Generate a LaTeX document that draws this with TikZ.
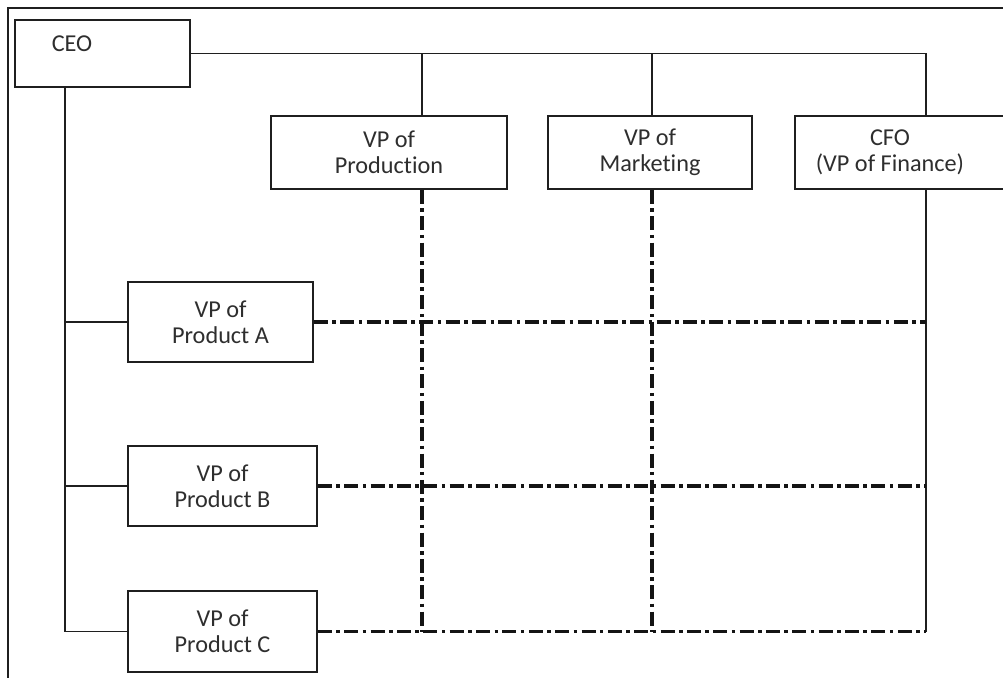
\documentclass[tikz,border=0pt]{standalone}
\usepackage{fontspec}
\setmainfont{Carlito}[Ligatures=NoCommon]
\begin{document}
\begin{tikzpicture}[
        x=0.02cm, y=-0.02cm,
        every node/.style={font=\fontsize{13.8}{14.8}\selectfont, text=black!82, align=center},
        box/.style={rectangle, draw=black!88, line width=1.1pt, inner sep=0pt},
        link/.style={draw=black!88, line width=1.1pt},
        matrixlink/.style={draw=black!92, line width=2.1pt,
                           dash pattern=on 8pt off 2.5pt on 2pt off 2.5pt},
    ]
        \useasboundingbox (0,0) rectangle (1003,678);
        \clip (0,0) rectangle (1003,678);

        \node[box, minimum width=3.5cm, minimum height=1.34cm] (ceo) at (102.5,53.5) {};
        \node (ceolbl) at (72,44) {CEO};
        \node[box, minimum width=4.72cm, minimum height=1.46cm] (prod) at (389,152.5) {VP of\\Production};
        \node[box, minimum width=4.08cm, minimum height=1.46cm] (mkt) at (650,152.5) {VP of\\Marketing};
        \node[box, minimum width=4.4cm, minimum height=1.46cm] (cfo) at (905,152.5) {};
        \node (cfolbl) at (890,152.5) {CFO\\(VP of Finance)};
        \node[box, minimum width=3.7cm, minimum height=1.6cm] (pa) at (220.5,322) {VP of\\Product A};
        \node[box, minimum width=3.78cm, minimum height=1.6cm] (pb) at (222.5,486) {VP of\\Product B};
        \node[box, minimum width=3.78cm, minimum height=1.62cm] (pc) at (222.5,631.5) {VP of\\Product C};

        \coordinate (trunk) at (65,87);
        \coordinate (xprod) at (422,56);
        \coordinate (xmkt) at (652,56);
        \coordinate (xcfo) at (926,56);

        \draw[link] (8,678) -- (8,8) -- (1003,8);

        \draw[link] (ceo.east) -- (ceo.east -| xcfo) -- (cfo.north -| xcfo);
        \draw[link] (xprod |- ceo.east) -- (xprod |- prod.north);
        \draw[link] (xmkt |- ceo.east) -- (xmkt |- mkt.north);
        \draw[link] (xcfo |- cfo.south) -- (xcfo |- pc.east);
        \draw[link] (trunk) |- (pc.west);
        \draw[link] (trunk |- pa.west) -- (pa.west);
        \draw[link] (trunk |- pb.west) -- (pb.west);

        \draw[matrixlink] (xprod |- prod.south) -- (xprod |- pc.east);
        \draw[matrixlink] (xmkt |- mkt.south) -- (xmkt |- pc.east);
        \draw[matrixlink] (pa.east) -- (pa.east -| xcfo);
        \draw[matrixlink] (pb.east) -- (pb.east -| xcfo);
        \draw[matrixlink] (pc.east) -- (pc.east -| xcfo);
    \end{tikzpicture}
\end{document}
